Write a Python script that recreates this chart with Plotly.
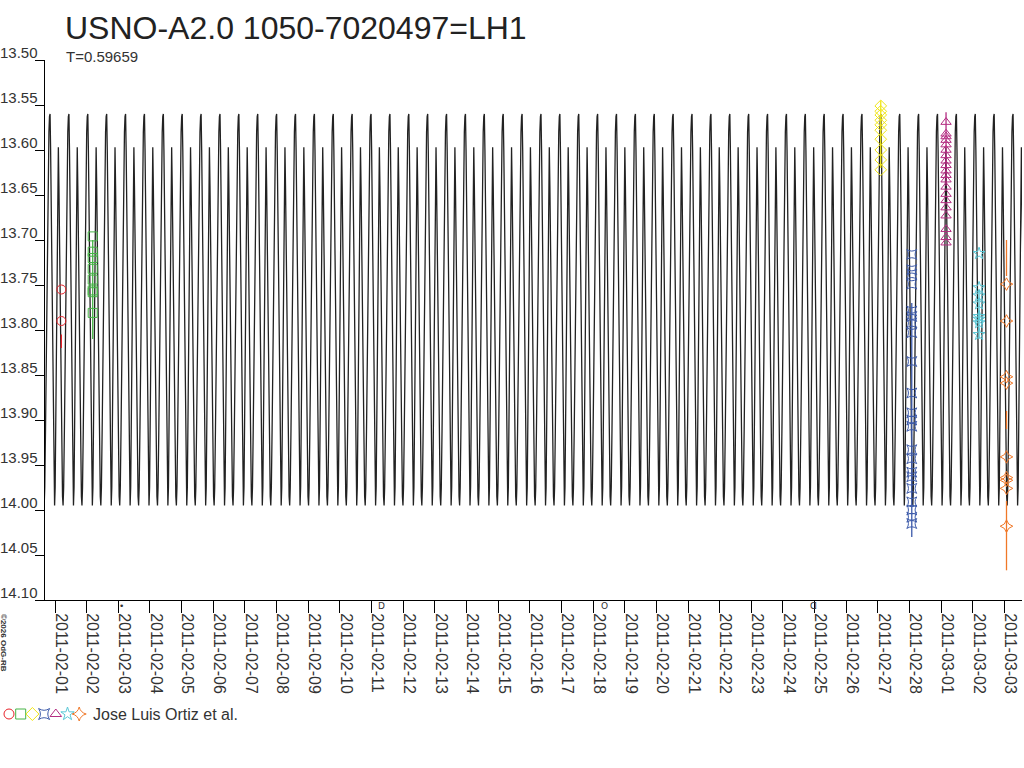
import numpy as np
import pandas as pd
from plotly import graph_objects as go

title = "USNO-A2.0 1050-7020497=LH1"
period = 0.59659  # days
epoch = pd.Timestamp("2011-01-31 20:15")  # a primary maximum

# one cycle of the model curve (primary max at phase 0)
phase = [0.00, 0.03, 0.07, 0.12, 0.17, 0.21, 0.24, 0.27, 0.31, 0.36, 0.41, 0.44,
         0.47, 0.52, 0.57, 0.62, 0.66, 0.69, 0.72, 0.76, 0.81, 0.86, 0.91, 0.94, 0.97]
phase_mag = [13.560, 13.600, 13.680, 13.800, 13.920, 13.980, 13.995, 13.975, 13.900,
             13.780, 13.650, 13.597, 13.640, 13.740, 13.860, 13.950, 13.985, 13.995,
             13.975, 13.910, 13.800, 13.690, 13.610, 13.580, 13.563]

# observations (one night each)
obs_colors = ["#e8222a", "#46b446", "#f0e614", "#3c5aaa", "#b42d82", "#5ac8d7", "#f07828"]
obs_symbols = ["circle-open", "square-open", "diamond-open", "star-square-open",
               "triangle-up-open", "star-open", "star-diamond-open"]
obs_times = ["2011-02-01 04:50", "2011-02-02 04:35", "2011-02-27 02:08", "2011-02-28 01:40",
             "2011-03-01 03:39", "2011-03-02 04:41", "2011-03-03 01:30"]
obs_mags = [
    [13.755, 13.790],
    [13.696, 13.713, 13.720, 13.732, 13.744, 13.756, 13.758, 13.781],
    [13.551, 13.557, 13.561, 13.567, 13.572, 13.578, 13.588, 13.600, 13.611, 13.622],
    [13.716, 13.733, 13.738, 13.749, 13.779, 13.785, 13.792, 13.803, 13.835, 13.870,
     13.892, 13.900, 13.907, 13.933, 13.943, 13.958, 13.963, 13.976, 13.991, 14.000,
     14.008, 14.015],
    [13.569, 13.582, 13.585, 13.589, 13.594, 13.600, 13.606, 13.612, 13.617, 13.623,
     13.628, 13.633, 13.641, 13.649, 13.656, 13.664, 13.673, 13.688, 13.697, 13.703],
    [13.715, 13.753, 13.762, 13.771, 13.785, 13.788, 13.792, 13.805],
    [13.749, 13.790, 13.852, 13.859, 13.941, 13.964, 13.967, 13.976, 14.018],
]
obs_bars = [
    [(13.805, 13.820)],
    [(13.700, 13.810)],
    [(13.545, 13.620)],
    [(13.770, 14.030)],
    [(13.558, 13.640)],
    [(13.755, 13.810)],
    [(13.700, 13.740), (13.890, 13.910), (13.990, 14.067)],
]
observer = "Jose Luis Ortiz et al."

moon_times = ["2011-02-03 02:31", "2011-02-11 07:18", "2011-02-18 08:36", "2011-02-24 23:26"]
moon_marks = ["•", "D", "O", "ᗡ"]

y_ticks = [13.50, 13.55, 13.60, 13.65, 13.70, 13.75, 13.80, 13.85, 13.90, 13.95,
           14.00, 14.05, 14.10]

FONT = "Liberation Sans, Arial, sans-serif"
TXT = "#333333"

# build the model curve by repeating the cycle
cycles = np.arange(-1, 53)
t_days = ((cycles[:, None] + np.array(phase)[None, :]).ravel()) * period
curve_x = epoch + pd.to_timedelta(t_days, unit="D")
curve_y = np.tile(phase_mag, len(cycles))

fig = go.Figure()
fig.add_trace(go.Scatter(x=curve_x, y=curve_y, mode="lines",
                         line=dict(color="#222222", width=1.3),
                         showlegend=False, hoverinfo="skip"))

for i in range(len(obs_times)):
    bx, by = [], []
    for a, b in obs_bars[i]:
        bx += [obs_times[i], obs_times[i], None]
        by += [a, b, None]
    fig.add_trace(go.Scatter(x=bx, y=by, mode="lines",
                             line=dict(color=obs_colors[i], width=1.3),
                             showlegend=False, hoverinfo="skip"))
    fig.add_trace(go.Scatter(x=[obs_times[i]] * len(obs_mags[i]), y=obs_mags[i],
                             mode="markers",
                             marker=dict(symbol=obs_symbols[i], size=9, color=obs_colors[i],
                                         line=dict(width=1, color=obs_colors[i])),
                             showlegend=False))

W, H = 1024, 768
ml, mr, mt, mb = 0, 2, 60, 20
ph = H - mt - mb
pw = W - ml - mr
y_bottom = (H - mb - 600) / ph
x_left = 45 / pw
legend_y = H - mb - 714  # pixels above bottom of plot area

# legend row on its own small axes (units = pixels)
fig.add_trace(go.Scatter(x=[9 + 11.7 * i for i in range(len(obs_symbols))],
                         y=[legend_y] * len(obs_symbols), mode="markers",
                         marker=dict(symbol=obs_symbols, size=10, color=obs_colors,
                                     line=dict(width=1, color=obs_colors)),
                         cliponaxis=False,
                         xaxis="x2", yaxis="y2", showlegend=False, hoverinfo="skip"))

fig.update_layout(
    width=W, height=H,
    margin=dict(l=ml, r=mr, t=mt, b=mb, autoexpand=False),
    paper_bgcolor="white", plot_bgcolor="white",
    font=dict(family=FONT, size=16, color=TXT),
    title=dict(text=title, x=65 / W, xanchor="left", y=1 - 28 / H, yanchor="middle",
               font=dict(family=FONT, size=32, color="#222222")),
    xaxis=dict(domain=[x_left, 1], type="date", automargin=False,
               range=["2011-01-31 16:25", "2011-03-03 13:15"],
               tick0="2011-02-01", dtick=86400000, tickformat="%Y-%m-%d",
               tickangle=90, ticks="outside", ticklen=12, tickcolor="black",
               ticklabelshift=6, ticklabelstandoff=-3,
               showline=True, linecolor="black", linewidth=1,
               showgrid=False, zeroline=False,
               tickfont=dict(family=FONT, size=16, color=TXT)),
    yaxis=dict(domain=[y_bottom, 1], range=[14.10, 13.50], automargin=False,
               tickvals=y_ticks, ticks="outside", ticklen=9, tickcolor="black",
               showticklabels=False, showline=True, linecolor="black", linewidth=1,
               showgrid=False, zeroline=False),
    xaxis2=dict(domain=[0, 0.3], range=[0, 0.3 * pw], anchor="y2", visible=False,
                automargin=False),
    yaxis2=dict(domain=[0, 0.1], range=[0, 0.1 * ph], anchor="x2", visible=False,
                automargin=False),
)

for v in y_ticks:
    fig.add_annotation(x=x_left, y=v, xref="paper", yref="y", text=f"{v:.2f}",
                       showarrow=False, xanchor="right", yanchor="bottom", xshift=-5,
                       yshift=-3, font=dict(family=FONT, size=15, color=TXT))

fig.add_annotation(x=64 / pw, y=1, xref="paper", yref="paper", text="T=0.59659",
                   showarrow=False, xanchor="left", yanchor="middle", yshift=4,
                   font=dict(family=FONT, size=15, color=TXT))

fig.add_annotation(x=91 / pw, y=legend_y / ph, xref="paper", yref="paper",
                   text=observer, showarrow=False, xanchor="left", yanchor="middle",
                   font=dict(family=FONT, size=16, color=TXT))

fig.add_annotation(x=4 / pw, y=(H - mb - 643) / ph, xref="paper", yref="paper",
                   text="<b>©2026 OdG-RB</b>", showarrow=False, textangle=90,
                   xanchor="center", yanchor="middle",
                   font=dict(family=FONT, size=8, color=TXT))

for t, m in zip(moon_times, moon_marks):
    fig.add_annotation(x=t, y=y_bottom, xref="x", yref="paper", text=m, showarrow=False,
                       yanchor="top", yshift=1,
                       font=dict(family="DejaVu Sans, sans-serif", size=9, color=TXT))

# the page body has a default 8px margin; drop it so the figure sits at the corner
fig.write_html("out.html", config={"displayModeBar": False},
               post_script="document.body.style.margin='0';")
